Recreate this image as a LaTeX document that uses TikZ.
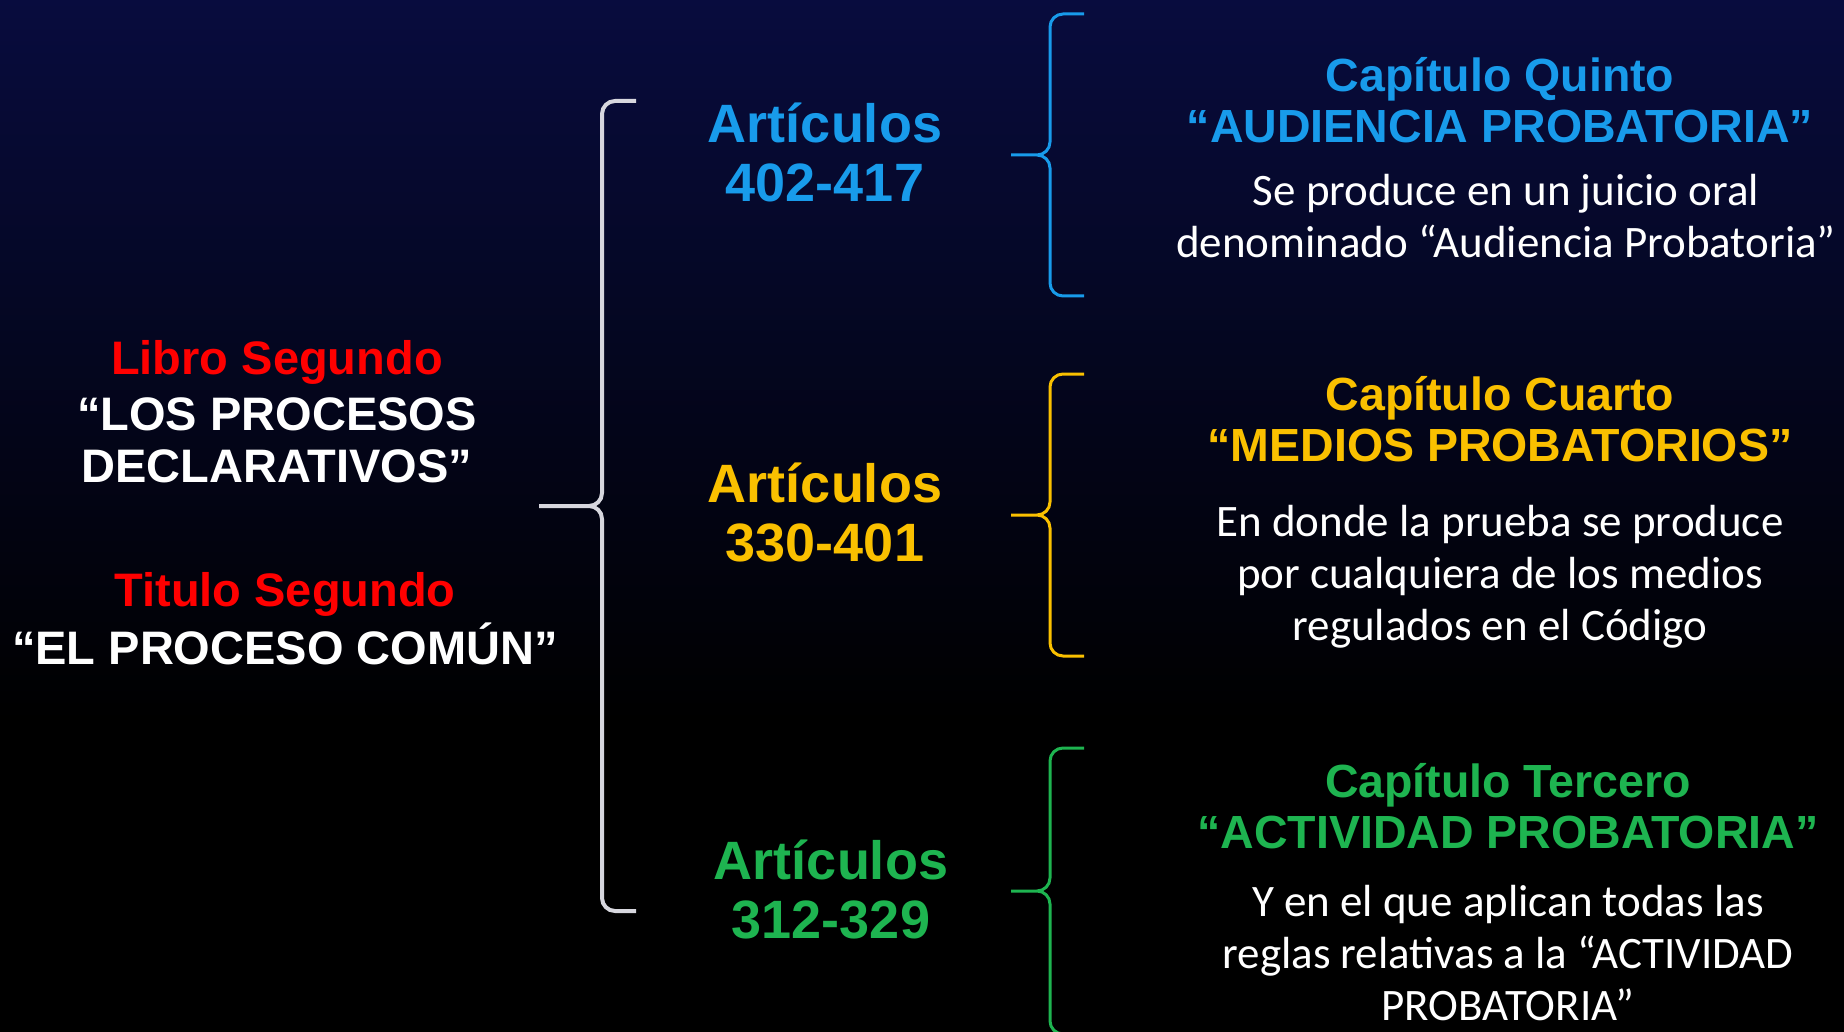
\documentclass[tikz,border=0pt]{standalone}
\usepackage{fontspec}
\setmainfont{Liberation Sans}
\newfontfamily\cuerpo{Carlito}
\usetikzlibrary{calc}

\definecolor{azul}{RGB}{24,155,235}
\definecolor{oro}{RGB}{250,192,0}
\definecolor{verde}{RGB}{30,180,80}
\definecolor{rojo}{RGB}{255,0,0}
\definecolor{gris}{RGB}{215,215,222}
\definecolor{fondo}{RGB}{8,12,62}

\tikzset{
  titulo/.style={font=\bfseries\fontsize{47}{52}\selectfont, align=center, inner sep=0pt},
  articulo/.style={font=\bfseries\fontsize{54}{59}\selectfont, align=center, inner sep=0pt},
  capitulo/.style={font=\bfseries\fontsize{46.5}{51}\selectfont, align=center, inner sep=0pt},
  texto/.style={font=\cuerpo\fontsize{45}{52}\selectfont, text=white, align=center, inner sep=0pt},
  % llave: #1 = gancho hasta el trazo vertical, #2 = trazo vertical hasta la punta
  llave/.style 2 args={line width=3pt, rounded corners=13pt, to path={
    (\tikztostart) -- ++(-#1,0) -- ($(\tikztostart)!.5!(\tikztotarget)+(-#1,0)$) -- ++(-#2,0)
    (\tikztotarget) -- ++(-#1,0) -- ($(\tikztostart)!.5!(\tikztotarget)+(-#1,0)$) -- ++(-#2,0)
    \tikztonodes}}
}

\begin{document}
\begin{tikzpicture}[x=1pt, y=-1pt]
  \useasboundingbox (0,0) rectangle (1844,1032);
  \fill[black] (0,0) rectangle (1844,1032);
  \shade[top color=fondo, bottom color=black] (0,0) rectangle (1844,720);

  % columna izquierda
  \node[titulo, text=rojo] (libro) at (277,362) {Libro Segundo};
  \node[titulo, text=white] (procesos) at (277,440) {“LOS PROCESOS\\DECLARATIVOS”};
  \node[titulo, text=rojo] (tituloseg) at (285,594) {Titulo Segundo};
  \node[titulo, text=white] (comun) at (285,644) {“EL PROCESO COMÚN”};

  % articulos
  \node[articulo, text=azul] (art5) at (825,152) {Artículos\\402-417};
  \node[articulo, text=oro] (art4) at (825,512) {Artículos\\330-401};
  \node[articulo, text=verde] (art3) at (831,889) {Artículos\\312-329};

  % capitulos
  \node[capitulo, text=azul] (cap5) at (1500,100) {Capítulo Quinto\\“AUDIENCIA PROBATORIA”};
  \node[texto] (desc5) at (1506,216) {Se produce en un juicio oral\\denominado “Audiencia Probatoria”};
  \node[capitulo, text=oro] (cap4) at (1500,419) {Capítulo Cuarto\\“MEDIOS PROBATORIOS”};
  \node[texto] (desc4) at (1500,577) {En donde la prueba se produce\\por cualquiera de los medios\\regulados en el Código};
  \node[capitulo, text=verde] (cap3) at (1508,806) {Capítulo Tercero\\“ACTIVIDAD PROBATORIA”};
  \node[texto] (desc3) at (1508,953) {Y en el que aplican todas las\\reglas relativas a la “ACTIVIDAD\\PROBATORIA”};

  % llaves
  \coordinate (ll0a) at (636,101);
  \coordinate (ll0b) at (636,911);
  \coordinate (ll5a) at (1084,14);
  \coordinate (ll5b) at (1084,296);
  \coordinate (ll4a) at (1084,374);
  \coordinate (ll4b) at (1084,656);
  \coordinate (ll3a) at (1084,748);
  \coordinate (ll3b) at (1084,1034);
  \draw[llave={34}{63}, gris, line width=4pt] (ll0a) to (ll0b);
  \draw[llave={34}{39}, azul] (ll5a) to (ll5b);
  \draw[llave={34}{39}, oro] (ll4a) to (ll4b);
  \draw[llave={34}{39}, verde] (ll3a) to (ll3b);
\end{tikzpicture}
\end{document}
